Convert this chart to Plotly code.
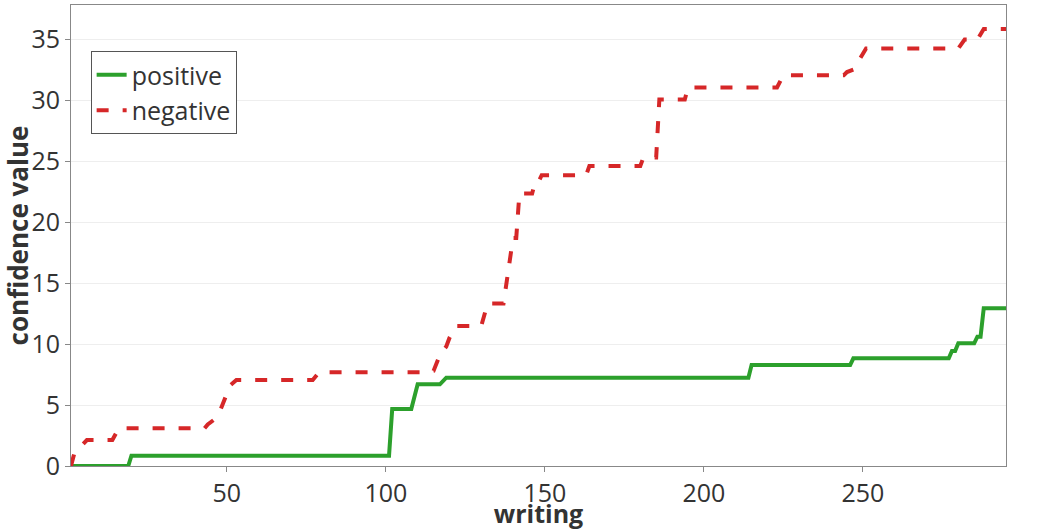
import plotly.graph_objects as go

# breakpoints of the cumulative confidence curves (x = writing index)
positive_x = [1, 19, 20, 101, 102, 108, 110, 117, 119, 214, 215, 246, 247,
              277, 278, 279, 280, 285, 286, 287, 288, 295]
positive_y = [0, 0, 0.85, 0.85, 4.67, 4.67, 6.7, 6.7, 7.24, 7.24, 8.28, 8.28,
              8.83, 8.83, 9.43, 9.43, 10.06, 10.06, 10.6, 10.6, 12.93, 12.93]

negative_x = [1, 2, 6, 14, 16, 43, 44, 46, 48, 50, 51, 53, 77, 79, 113, 115,
              117, 119, 120, 122, 130, 132, 137, 140, 141, 142, 146, 147, 148,
              149, 163, 164, 180, 181, 185, 186, 194, 195, 223, 225, 244, 245,
              247, 251, 280, 282, 286, 288, 295]
negative_y = [0, 1.0, 2.13, 2.13, 3.09, 3.09, 3.4, 3.8, 4.6, 5.9, 6.6, 7.05,
              7.05, 7.68, 7.68, 7.8, 9.1, 9.8, 10.5, 11.48, 11.48, 13.33, 13.33,
              18.7, 18.7, 22.35, 22.35, 23.3, 23.3, 23.85, 23.85, 24.6, 24.6,
              25.3, 25.3, 30.05, 30.05, 31.04, 31.04, 32.05, 32.05, 32.3, 32.5,
              34.24, 34.24, 34.97, 34.97, 35.83, 35.83]

y_ticks = [0, 5, 10, 15, 20, 25, 30, 35]
x_ticks = [50, 100, 150, 200, 250]

FONT = "Open Sans"
TEXT = "#333"

fig = go.Figure()
fig.add_trace(go.Scatter(
    x=positive_x, y=positive_y, mode="lines", name="positive",
    line=dict(color="#2ca02c", width=4),
))
fig.add_trace(go.Scatter(
    x=negative_x, y=negative_y, mode="lines", name="negative",
    line=dict(color="#d62728", width=4, dash="12px,14px"),
))

fig.update_layout(
    width=1063, height=530,
    margin=dict(l=71, r=57, t=5, b=64),
    paper_bgcolor="white", plot_bgcolor="white",
    font=dict(family=FONT, size=25, color=TEXT),
    legend=dict(
        x=0.021, y=0.9, xanchor="left", yanchor="top",
        bgcolor="white", bordercolor="#555", borderwidth=1,
        itemwidth=30,
        font=dict(size=25, color=TEXT),
    ),
)
fig.update_xaxes(
    range=[1, 295], tickvals=x_ticks, showgrid=False, automargin=False,
    showline=True, linecolor="#888", linewidth=1, mirror=True,
    ticks="outside", ticklen=5, tickcolor="#888",
    tickfont=dict(size=25, color=TEXT),
    title=dict(text="<b>writing</b>", font=dict(size=25, color=TEXT), standoff=6),
    zeroline=False,
)
fig.update_yaxes(
    range=[0, 37.8], tickvals=y_ticks, showgrid=True, gridcolor="#eeeeee",
    automargin=False,
    showline=True, linecolor="#888", linewidth=1, mirror=True,
    ticks="outside", ticklen=5, tickcolor="#888",
    tickfont=dict(size=25, color=TEXT),
    title=dict(text="<b>confidence value</b>", font=dict(size=26, color=TEXT), standoff=4),
    zeroline=False,
)

# the page body has a default 8px margin; drop it so the figure sits at the corner
fig.write_html(
    "out.html",
    config={"displayModeBar": False},
    post_script="document.body.style.margin='0';",
)
